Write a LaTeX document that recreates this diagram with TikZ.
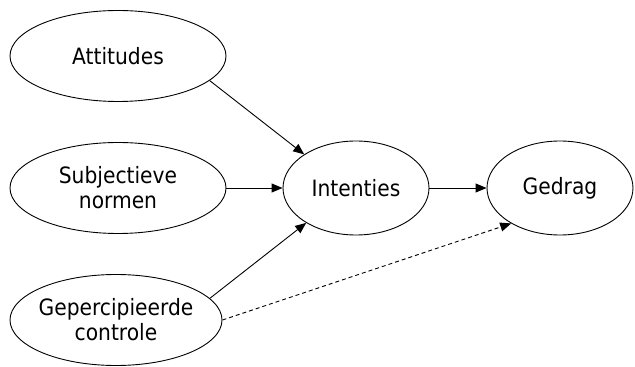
\documentclass[tikz,border=0pt]{standalone}
\usepackage{fontspec}
\setmainfont{DejaVu Sans Condensed}
\usetikzlibrary{shapes.geometric,arrows.meta}
\begin{document}
\begin{tikzpicture}[x=1pt,y=1pt,
  oval/.style={draw,ellipse,line width=0.9pt,inner sep=0pt,align=center,
    font=\fontsize{22.5}{25}\selectfont},
  big/.style={oval,minimum width=216pt,minimum height=91pt},
  small/.style={oval,minimum width=146pt,minimum height=94pt},
  conn/.style={line width=0.9pt,-{Triangle[length=11pt,width=9pt]}}]
\useasboundingbox (0,0) rectangle (635,367);
\node[big] (A) at (118,311) {Attitudes};
\node[big] (S) at (118,179) {Subjectieve\\normen};
\node[big,minimum width=212pt,inner xsep=-14pt] (G) at (116,47) {Gepercipieerde\\controle};
\node[small] (I) at (356,179) {Intenties};
\node[small] (D) at (560,179) {Gedrag};
\draw[conn] (A.-15) -- (I.147);
\draw[conn] (S.east) -- (I.west);
\draw[conn] (G.13) -- (I.215);
\draw[conn] (I.east) -- (D.west);
\draw[conn,dash pattern=on 4pt off 3pt] (G.0) -- (D.216);
\end{tikzpicture}
\end{document}
